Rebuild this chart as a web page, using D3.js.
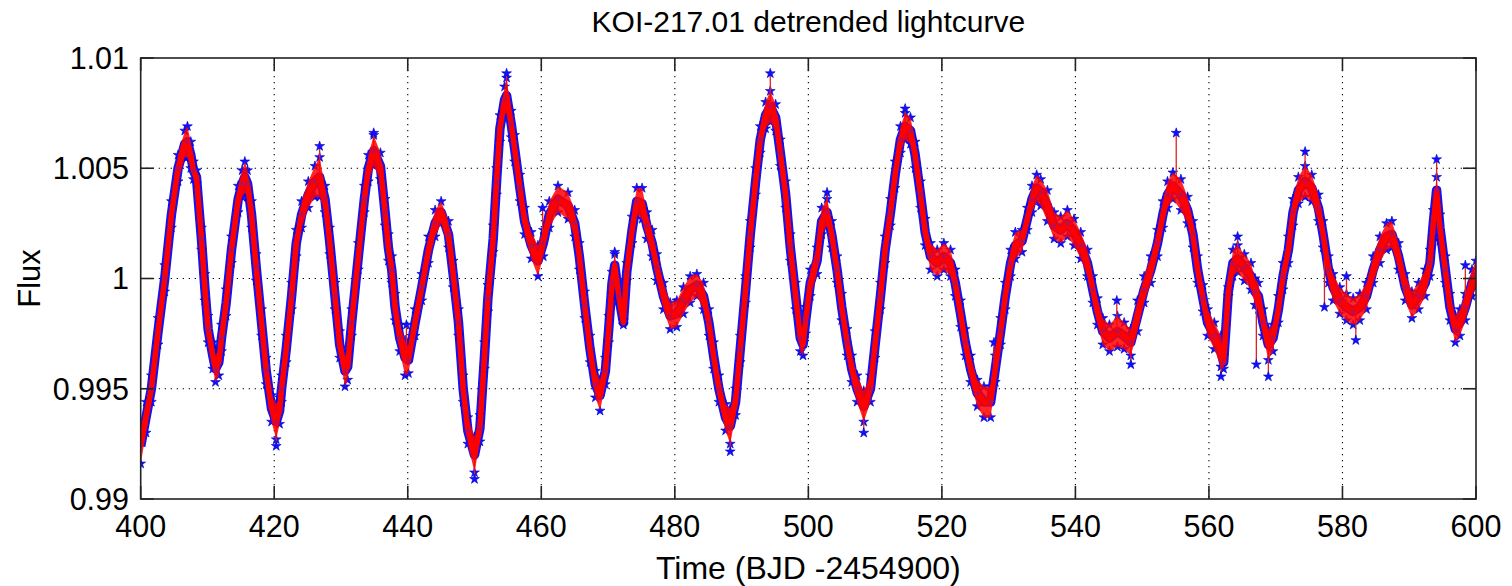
<!DOCTYPE html>
<html>
<head>
<meta charset="utf-8">
<script src="https://cdn.jsdelivr.net/npm/d3@7"></script>
<style>
  html, body { margin: 0; padding: 0; background: #fff; }
  svg { display: block; }
  text { font-family: "Liberation Sans", Arial, Helvetica, sans-serif; fill: #000; }
</style>
</head>
<body>
<svg id="chart" width="1512" height="586"></svg>
<script>
// ---- data ----
const title = "KOI-217.01 detrended lightcurve";
const xLabel = "Time (BJD -2454900)";
const yLabel = "Flux";
const xTicks = [400, 420, 440, 460, 480, 500, 520, 540, 560, 580, 600];
const yTicks = [0.99, 0.995, 1, 1.005, 1.01];
const yTickLabels = ["0.99", "0.995", "1", "1.005", "1.01"];

// time (days), centre of the flux band and half-width of the scatter band
const time = [400.0,400.8,401.6,402.6,403.6,404.6,405.6,406.6,407.0,407.5,407.9,408.35,409.1,409.6,410.1,410.8,411.2,411.7,412.1,412.8,413.6,414.6,415.2,415.6,416.0,416.6,417.3,418.1,418.8,419.6,420.3,420.8,421.1,421.8,422.6,423.3,424.1,425.1,426.1,426.8,427.6,428.3,429.1,429.8,430.6,431.0,431.6,432.6,433.5,434.1,434.9,435.9,436.6,437.1,437.6,438.1,438.8,439.6,440.1,441.1,442.1,443.1,444.1,445.0,446.1,446.8,447.6,448.3,449.0,450.0,450.8,451.5,452.0,452.8,453.3,453.8,454.5,454.8,455.5,456.0,456.8,457.5,458.5,459.5,460.3,461.2,462.5,464.0,465.0,465.7,466.5,467.3,468.1,468.8,469.6,470.1,470.6,471.0,471.6,472.3,472.8,473.6,474.3,475.1,475.8,476.6,477.3,478.3,479.3,480.3,481.3,482.3,483.3,484.3,485.1,485.8,486.6,487.6,488.3,489.1,489.8,490.6,491.3,492.1,492.8,493.6,494.3,495.1,495.8,496.6,497.3,498.1,498.8,499.2,499.6,500.3,501.3,502.0,502.8,503.5,504.3,505.0,505.8,506.5,507.3,508.3,509.3,510.0,510.8,511.5,512.3,513.0,513.8,514.5,515.3,516.0,516.8,517.5,518.3,519.3,520.3,521.3,522.0,522.8,523.5,524.3,525.3,526.3,527.3,528.0,528.8,529.5,530.3,531.0,532.0,532.8,533.5,534.2,534.8,535.8,536.8,537.8,538.8,539.8,540.8,541.8,542.6,543.3,544.1,545.1,546.3,547.3,548.3,549.3,550.3,551.3,552.3,553.1,553.8,554.6,555.8,556.8,557.6,558.3,559.1,559.8,560.8,561.8,562.2,562.9,563.6,564.3,565.3,566.3,566.9,567.4,568.1,568.9,569.6,570.4,571.1,571.9,572.6,573.4,574.4,575.4,576.4,577.1,577.9,578.6,579.6,580.6,581.6,582.6,583.6,584.6,585.6,586.6,587.4,588.4,589.4,590.4,591.4,592.4,593.1,593.6,594.1,594.6,595.4,596.1,596.9,597.6,598.4,599.4,600.0];
const flux = [0.9924,0.9937,0.9950,0.9976,1.0000,1.0029,1.0050,1.0061,1.0062,1.0056,1.0049,1.0046,1.0018,0.9996,0.9977,0.9965,0.9959,0.9962,0.9973,0.9989,1.0013,1.0036,1.0043,1.0046,1.0043,1.0029,1.0005,0.9980,0.9958,0.9941,0.9935,0.9940,0.9950,0.9968,0.9992,1.0016,1.0029,1.0038,1.0044,1.0046,1.0036,1.0017,0.9992,0.9970,0.9958,0.9960,0.9980,1.0010,1.0036,1.0050,1.0058,1.0051,1.0030,1.0014,1.0004,0.9987,0.9973,0.9964,0.9963,0.9980,0.9996,1.0013,1.0025,1.0030,1.0020,1.0002,0.9980,0.9950,0.9931,0.9920,0.9932,0.9965,0.9991,1.0018,1.0044,1.0068,1.0081,1.0083,1.0070,1.0059,1.0041,1.0026,1.0015,1.0008,1.0016,1.0029,1.0036,1.0033,1.0025,1.0010,0.9988,0.9968,0.9952,0.9947,0.9958,0.9977,0.9998,1.0006,0.9992,0.9980,1.0003,1.0022,1.0035,1.0034,1.0024,1.0016,1.0005,0.9992,0.9983,0.9984,0.9990,0.9995,0.9997,0.9992,0.9980,0.9965,0.9950,0.9937,0.9933,0.9944,0.9968,0.9995,1.0020,1.0044,1.0063,1.0074,1.0078,1.0073,1.0057,1.0038,1.0014,0.9992,0.9973,0.9970,0.9981,0.9998,1.0008,1.0026,1.0030,1.0020,1.0004,0.9987,0.9971,0.9959,0.9950,0.9942,0.9950,0.9970,0.9992,1.0013,1.0030,1.0047,1.0063,1.0069,1.0067,1.0056,1.0038,1.0021,1.0010,1.0007,1.0010,1.0007,0.9998,0.9984,0.9971,0.9959,0.9948,0.9944,0.9944,0.9959,0.9976,0.9992,1.0007,1.0015,1.0017,1.0027,1.0036,1.0041,1.0039,1.0033,1.0024,1.0022,1.0025,1.0021,1.0015,1.0007,0.9995,0.9985,0.9976,0.9973,0.9976,0.9974,0.9971,0.9983,0.9995,1.0004,1.0016,1.0029,1.0038,1.0042,1.0038,1.0031,1.0020,1.0004,0.9991,0.9980,0.9974,0.9967,0.9962,0.9994,1.0007,1.0009,1.0005,1.0001,0.9994,0.9992,0.9980,0.9970,0.9973,0.9986,1.0001,1.0013,1.0030,1.0040,1.0044,1.0041,1.0032,1.0020,1.0004,0.9996,0.9990,0.9987,0.9985,0.9987,0.9992,1.0004,1.0013,1.0019,1.0020,1.0010,0.9996,0.9988,0.9992,0.9998,1.0007,1.0025,1.0040,1.0023,1.0004,0.9987,0.9977,0.9980,0.9987,0.9998,1.0002];
const spread = [0.0008,0.0007,0.0006,0.0006,0.0006,0.0006,0.0006,0.0006,0.0007,0.0006,0.0004,0.0003,0.0005,0.0006,0.0006,0.0006,0.0006,0.0006,0.0006,0.0006,0.0006,0.0006,0.0006,0.0007,0.0006,0.0006,0.0006,0.0006,0.0006,0.0006,0.0008,0.0006,0.0006,0.0006,0.0006,0.0006,0.0006,0.0006,0.0007,0.0009,0.0006,0.0006,0.0006,0.0006,0.0007,0.0006,0.0006,0.0006,0.0006,0.0006,0.0007,0.0006,0.0006,0.0006,0.0006,0.0006,0.0006,0.0008,0.0006,0.0006,0.0006,0.0006,0.0006,0.0005,0.0006,0.0006,0.0006,0.0006,0.0006,0.0008,0.0006,0.0006,0.0006,0.0006,0.0006,0.0006,0.0006,0.0008,0.0006,0.0006,0.0006,0.0006,0.0006,0.0007,0.0006,0.0006,0.0006,0.0006,0.0006,0.0006,0.0006,0.0006,0.0006,0.0007,0.0006,0.0006,0.0005,0.0005,0.0002,0.0001,0.0004,0.0006,0.0006,0.0007,0.0006,0.0006,0.0006,0.0006,0.0006,0.0006,0.0006,0.0006,0.0005,0.0006,0.0006,0.0006,0.0006,0.0006,0.0008,0.0006,0.0006,0.0006,0.0006,0.0006,0.0006,0.0006,0.0007,0.0006,0.0006,0.0006,0.0006,0.0006,0.0006,0.0005,0.0006,0.0006,0.0006,0.0006,0.0006,0.0006,0.0006,0.0006,0.0006,0.0006,0.0006,0.0007,0.0006,0.0006,0.0006,0.0006,0.0006,0.0006,0.0006,0.0006,0.0006,0.0006,0.0006,0.0006,0.0006,0.0006,0.0006,0.0006,0.0006,0.0006,0.0006,0.0006,0.0006,0.0007,0.0007,0.0006,0.0006,0.0006,0.0006,0.0006,0.0005,0.0005,0.0006,0.0006,0.0006,0.0007,0.0006,0.0006,0.0006,0.0006,0.0006,0.0006,0.0006,0.0006,0.0006,0.0006,0.0007,0.0006,0.0006,0.0007,0.0006,0.0006,0.0006,0.0006,0.0006,0.0006,0.0007,0.0006,0.0006,0.0006,0.0006,0.0006,0.0006,0.0007,0.0003,0.0002,0.0006,0.0006,0.0006,0.0006,0.0006,0.0006,0.0006,0.0007,0.0006,0.0006,0.0006,0.0006,0.0006,0.0006,0.0007,0.0006,0.0006,0.0006,0.0006,0.0006,0.0006,0.0006,0.0006,0.0006,0.0006,0.0006,0.0006,0.0006,0.0006,0.0006,0.0006,0.0006,0.0006,0.0006,0.0006,0.0006,0.0006,0.0006,0.0006,0.0006,0.0006,0.0006,0.0006,0.0006,0.0006,0.0006,0.0006,0.0006];

// isolated points sticking out of the band
const outlierTime = [426.8,434.9,439.8,450.0,454.8,460.2,471.0,488.3,494.3,502.8,508.3,514.5,527.8,546.2,548.3,555.1,561.8,564.3,567.1,568.9,574.4,577.3,580.6,582.0,594.1,598.4,420.3];
const outlierFlux = [1.0060,1.0066,0.9979,0.9909,1.0093,1.0032,1.0012,0.99215,1.0093,1.0039,0.9930,1.0077,0.9971,0.9990,0.9961,1.0066,0.99555,1.0019,0.9961,0.99555,1.00575,0.9987,1.0001,0.9972,1.0054,1.0006,0.9924];

// ---- layout ----
const svg = d3.select("#chart");
const L = 140.7, R = 1476, T = 58, B = 499;
const x = d3.scaleLinear().domain([400, 600]).range([L, R]);
const y = d3.scaleLinear().domain([0.99, 1.01]).range([B, T]);

const pts = time.map((t, i) => ({ t, f: flux[i], s: spread[i] }));

// grid
const grid = svg.append("g").attr("stroke", "#000").attr("stroke-width", 1.1)
  .attr("stroke-dasharray", "1.3,4.7");
grid.selectAll(".gx").data(xTicks.slice(1, -1)).join("line")
  .attr("x1", d => x(d)).attr("x2", d => x(d)).attr("y1", T).attr("y2", B);
grid.selectAll(".gy").data(yTicks.slice(1, -1)).join("line")
  .attr("y1", d => y(d)).attr("y2", d => y(d)).attr("x1", L).attr("x2", R);

// data
svg.append("defs").append("clipPath").attr("id", "clip")
  .append("rect").attr("x", L).attr("y", T).attr("width", R - L).attr("height", B - T);
const gData = svg.append("g").attr("clip-path", "url(#clip)");

const line = d3.line().x(d => x(d.t)).y(d => y(d.f));
const area = d3.area().x(d => x(d.t)).y0(d => y(d.f - d.s)).y1(d => y(d.f + d.s));

gData.append("path").datum(pts).attr("d", line)
  .attr("fill", "none").attr("stroke", "#1414f0").attr("stroke-width", 9.5)
  .attr("stroke-linejoin", "round");

const star = d3.symbol().type(d3.symbolStar).size(30);
const edgePts = [];
pts.forEach(d => { edgePts.push({ t: d.t, f: d.f + d.s }); edgePts.push({ t: d.t, f: d.f - d.s }); });
gData.selectAll(".m").data(edgePts).join("path")
  .attr("d", star).attr("transform", d => `translate(${x(d.t)},${y(d.f)})`)
  .attr("fill", "#1010ff").attr("stroke", "#0000c8").attr("stroke-width", 0.6);

// outliers: red stroke from band centre to the point, then blue marker
const bis = d3.bisector(d => d.t).center;
const outs = outlierTime.map((t, i) => ({ t, f: outlierFlux[i], base: pts[bis(pts, t)].f }));
gData.selectAll(".ol").data(outs).join("line")
  .attr("x1", d => x(d.t)).attr("x2", d => x(d.t))
  .attr("y1", d => y(d.base)).attr("y2", d => y(d.f))
  .attr("stroke", "#e02020").attr("stroke-width", 1.3);
gData.selectAll(".om").data(outs).join("path")
  .attr("d", star).attr("transform", d => `translate(${x(d.t)},${y(d.f)})`)
  .attr("fill", "#1010ff").attr("stroke", "#0000c8").attr("stroke-width", 0.6);

gData.append("path").datum(pts).attr("d", area)
  .attr("fill", "#ff0000").attr("fill-opacity", 0.85);
gData.append("path").datum(pts).attr("d", line)
  .attr("fill", "none").attr("stroke", "#ff0000").attr("stroke-width", 5.5)
  .attr("stroke-linejoin", "round");
gData.selectAll(".cm").data(pts.filter((d, i) => i % 2 === 0)).join("path")
  .attr("d", d3.symbol().type(d3.symbolStar).size(14))
  .attr("transform", d => `translate(${x(d.t)},${y(d.f)})`)
  .attr("fill", "#6020c0").attr("opacity", 0.5);

// box
svg.append("rect").attr("x", L).attr("y", T).attr("width", R - L).attr("height", B - T)
  .attr("fill", "none").attr("stroke", "#222").attr("stroke-width", 1.6);

// ticks
const tk = 13;
const gt = svg.append("g").attr("stroke", "#222").attr("stroke-width", 1.6);
gt.selectAll(".tb").data(xTicks).join("line")
  .attr("x1", d => x(d)).attr("x2", d => x(d)).attr("y1", B).attr("y2", B - tk);
gt.selectAll(".tt").data(xTicks).join("line")
  .attr("x1", d => x(d)).attr("x2", d => x(d)).attr("y1", T).attr("y2", T + tk);
gt.selectAll(".tl").data(yTicks).join("line")
  .attr("y1", d => y(d)).attr("y2", d => y(d)).attr("x1", L).attr("x2", L + tk);
gt.selectAll(".tr").data(yTicks).join("line")
  .attr("y1", d => y(d)).attr("y2", d => y(d)).attr("x1", R).attr("x2", R - tk);

// tick labels
svg.append("g").selectAll("text").data(xTicks).join("text")
  .attr("x", d => x(d)).attr("y", 537).attr("text-anchor", "middle")
  .attr("font-size", 30.5).text(d => d);
svg.append("g").selectAll("text").data(yTicks).join("text")
  .attr("x", 129).attr("y", d => y(d)).attr("dy", "0.36em").attr("text-anchor", "end")
  .attr("font-size", 30.5).text((d, i) => yTickLabels[i]);

// titles
svg.append("text").attr("x", (L + R) / 2).attr("y", 32).attr("text-anchor", "middle")
  .attr("font-size", 30).text(title);
svg.append("text").attr("x", (L + R) / 2).attr("y", 579).attr("text-anchor", "middle")
  .attr("font-size", 32).text(xLabel);
svg.append("text").attr("transform", `translate(40,${(T + B) / 2}) rotate(-90)`)
  .attr("text-anchor", "middle").attr("font-size", 31).text(yLabel);
</script>
</body>
</html>
